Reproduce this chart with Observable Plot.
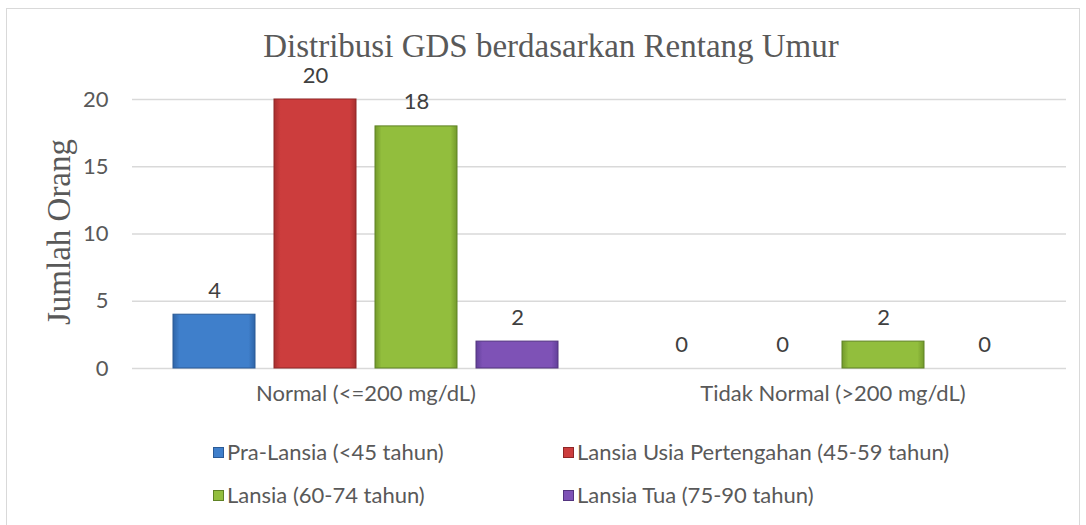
<!DOCTYPE html>
<html><head><meta charset="utf-8">
<script src="https://cdn.jsdelivr.net/npm/d3@7"></script>
<script src="https://cdn.jsdelivr.net/npm/@observablehq/plot@0.6"></script>
<style>
body{margin:0;background:#fff;}
#wrap{position:relative;width:1086px;height:525px;overflow:hidden;font-family:"Lato",sans-serif;color:#595959;}
#frame{position:absolute;left:6px;top:8px;width:1074px;height:540px;border:1px solid #d9d9d9;box-sizing:border-box;}
#title{position:absolute;left:0;width:1102px;top:33px;text-align:center;font-family:"Liberation Serif",serif;font-size:33px;line-height:26px;color:#595959;white-space:nowrap;}
#ylab{position:absolute;left:59px;top:232px;transform:translate(-50%,-50%) rotate(-90deg);font-family:"Liberation Serif",serif;font-size:33px;line-height:30px;white-space:nowrap;color:#595959;}
#chart{position:absolute;left:0;top:40px;}
.leg{position:absolute;font-size:22px;line-height:22px;white-space:nowrap;display:flex;align-items:center;}
.sw{width:11px;height:11px;margin-right:3px;display:inline-block;box-sizing:border-box;}
</style></head>
<body><div id="wrap">
<div id="frame"></div>
<svg width="0" height="0" style="position:absolute">
  <defs id="defs"></defs>
</svg>
<div id="chart"></div>
<div id="title">Distribusi GDS berdasarkan Rentang Umur</div>
<div id="ylab">Jumlah Orang</div>
<div id="legend"></div>
</div>
<script>
const categories = ["Normal (<=200 mg/dL)", "Tidak Normal (>200 mg/dL)"];
const series = ["Pra-Lansia (<45 tahun)", "Lansia Usia Pertengahan (45-59 tahun)", "Lansia (60-74 tahun)", "Lansia Tua (75-90 tahun)"];
const valuesNormal = [4, 20, 18, 2];
const valuesTidakNormal = [0, 0, 2, 0];
const yTicks = [0, 5, 10, 15, 20];
const colors = ["#3f7fcb", "#cc3d3d", "#92be3d", "#7e52b6"];
const edges = ["#2f65a8", "#a82f2f", "#739a2b", "#62409a"];
const strokes = ["#2a5a96", "#8f2626", "#5f8225", "#53347f"];

// horizontal bevel-like gradients
const defs = document.getElementById("defs");
colors.forEach((c, i) => {
  const ns = "http://www.w3.org/2000/svg";
  const g = document.createElementNS(ns, "linearGradient");
  g.setAttribute("id", "bar" + i);
  g.setAttribute("x1", "0"); g.setAttribute("x2", "1"); g.setAttribute("y1", "0"); g.setAttribute("y2", "0");
  [[0, edges[i]], [0.08, c], [0.92, c], [1, edges[i]]].forEach(([o, col]) => {
    const s = document.createElementNS(ns, "stop");
    s.setAttribute("offset", o);
    s.setAttribute("stop-color", col);
    g.appendChild(s);
  });
  defs.appendChild(g);
});

const data = [];
series.forEach((s, i) => {
  data.push({cat: categories[0], series: s, value: valuesNormal[i]});
  data.push({cat: categories[1], series: s, value: valuesTidakNormal[i]});
});

const plot = Plot.plot({
  width: 1086,
  height: 384,
  marginTop: 59,
  marginBottom: 56,
  marginLeft: 132,
  marginRight: 20,
  style: {fontFamily: "Lato, sans-serif", fontSize: "22px", color: "#595959", background: "transparent"},
  fx: {domain: categories, padding: 0, label: null},
  x: {domain: series, paddingInner: 0.19, paddingOuter: 0.395, axis: null},
  y: {domain: [0, 20], label: null},
  marks: [
    Plot.gridY(yTicks, {stroke: "#d9d9d9", strokeOpacity: 1, strokeWidth: 1.3}),
    Plot.axisY({ticks: yTicks, tickSize: 0, tickPadding: 24, fontSize: 22, label: null}),
    Plot.axisFx({anchor: "bottom", tickSize: 0, tickPadding: 17, fontSize: 22, label: null}),
    Plot.barY(data, {fx: "cat", x: "series", y: "value",
      fill: d => "url(#bar" + series.indexOf(d.series) + ")",
      stroke: d => strokes[series.indexOf(d.series)], strokeWidth: 1}),
    Plot.text(data, {fx: "cat", x: "series", y: "value", text: d => String(d.value), lineAnchor: "middle", dy: -24, fontSize: 22, fill: "#404040"})
  ]
});
document.getElementById("chart").appendChild(plot);

const leg = document.getElementById("legend");
const pos = [[213, 441], [563, 441], [213, 484], [563, 484]];
series.forEach((s, i) => {
  const d = document.createElement("div");
  d.className = "leg";
  d.style.left = pos[i][0] + "px";
  d.style.top = pos[i][1] + "px";
  const sw = document.createElement("span");
  sw.className = "sw";
  sw.style.background = colors[i];
  sw.style.border = "1px solid " + strokes[i];
  d.appendChild(sw);
  d.appendChild(document.createTextNode(s));
  leg.appendChild(d);
});
</script>
</body></html>
